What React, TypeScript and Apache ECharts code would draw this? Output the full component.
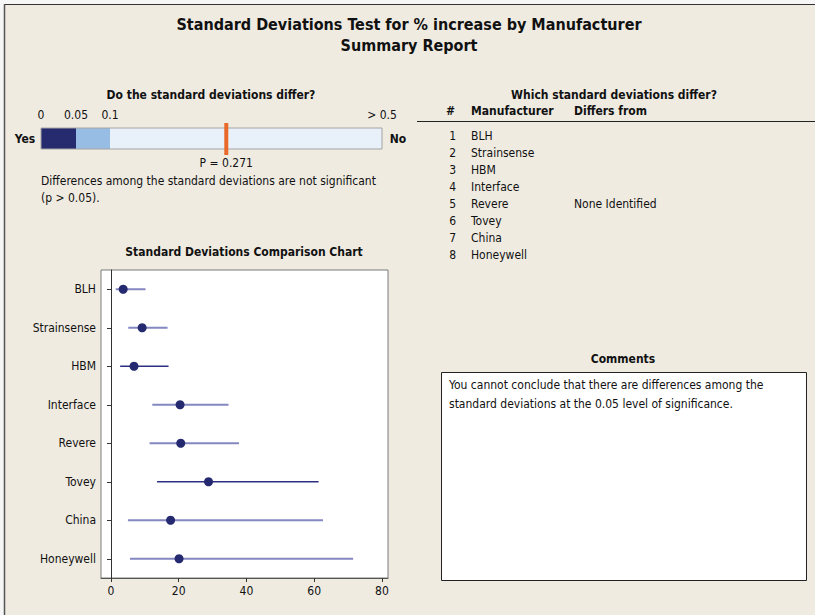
import React, { useEffect, useRef } from "react";
import * as echarts from "echarts";

// ---- data ----
const manufacturers = ["BLH", "Strainsense", "HBM", "Interface", "Revere", "Tovey", "China", "Honeywell"];
const stdevs = [3.6, 9.2, 6.8, 20.4, 20.6, 28.8, 17.6, 20.1];
const ciLow = [1.4, 5.1, 2.7, 12.2, 11.4, 13.6, 5.0, 5.6];
const ciHigh = [10.2, 16.7, 17.0, 34.7, 37.8, 61.3, 62.6, 71.5];
const ciDark = [false, false, true, false, false, true, false, false];
const xTicks = [0, 20, 40, 60, 80];
const pBreaks = [0, 0.05, 0.1, 0.5];
const pTickLabels = ["0", "0.05", "0.1", "> 0.5"];
const pValue = 0.271;
const differsFrom = ["", "", "", "", "None Identified", "", "", ""];

const FONT = "'DejaVu Sans Condensed', 'DejaVu Sans', sans-serif";
const BG = "#efebe1";
const NAVY = "#252a70";
const LIGHT_LINE = "#8587c0";
const DARK_LINE = "#2c3080";

// pixel positions of the p-value bar breakpoints
const barPx = [41, 76, 110, 382];
function pToX(p: number): number {
  for (let i = 0; i < pBreaks.length - 1; i++) {
    if (p <= pBreaks[i + 1]) {
      const t = (p - pBreaks[i]) / (pBreaks[i + 1] - pBreaks[i]);
      return barPx[i] + t * (barPx[i + 1] - barPx[i]);
    }
  }
  return barPx[barPx.length - 1];
}

function txt(text: string, x: number, y: number, opts: any = {}) {
  const align = opts.align || "left";
  return {
    type: "text",
    silent: true,
    style: {
      text,
      x,
      y,
      fill: opts.color || "#111",
      fontSize: opts.size || 12,
      fontWeight: opts.bold ? "bold" : "normal",
      fontFamily: FONT,
      align,
      textAlign: align,
      verticalAlign: "middle",
      textVerticalAlign: "middle",
    },
  };
}

export default function App() {
  const ref = useRef<HTMLDivElement>(null);
  useEffect(() => {
    if (!ref.current) return;
    const chart = echarts.init(ref.current, undefined, { renderer: "svg" });

    const graphics: any[] = [];
    // frame background
    graphics.push({ type: "rect", silent: true, z: -10, shape: { x: 4, y: 4, width: 811, height: 611 }, style: { fill: BG } });
    graphics.push({ type: "line", silent: true, shape: { x1: 4, y1: 4.5, x2: 815, y2: 4.5 }, style: { stroke: "#333", lineWidth: 1 } });
    graphics.push({ type: "line", silent: true, shape: { x1: 4.5, y1: 4, x2: 4.5, y2: 615 }, style: { stroke: "#555", lineWidth: 1.5 } });

    // main titles
    graphics.push(txt("Standard Deviations Test for % increase by Manufacturer", 409, 24, { size: 16, bold: true, align: "center" }));
    graphics.push(txt("Summary Report", 409, 45, { size: 16, bold: true, align: "center" }));

    // p-value panel
    graphics.push(txt("Do the standard deviations differ?", 211, 95, { bold: true, align: "center" }));
    pTickLabels.forEach((l, i) => graphics.push(txt(l, pToX(pBreaks[i]), 115, { align: "center" })));
    const barColors = ["#262a6e", "#98bde4", "#e8f0fa"];
    for (let i = 0; i < pBreaks.length - 1; i++) {
      const x0 = pToX(pBreaks[i]);
      const x1 = pToX(pBreaks[i + 1]);
      graphics.push({ type: "rect", silent: true, shape: { x: x0, y: 128, width: x1 - x0, height: 21 }, style: { fill: barColors[i] } });
    }
    graphics.push({ type: "rect", silent: true, shape: { x: 41, y: 128, width: 341, height: 21 }, style: { fill: "none", stroke: "#a4a4a4", lineWidth: 1 } });
    const px = pToX(pValue);
    graphics.push({ type: "rect", silent: true, shape: { x: px - 2, y: 123, width: 4, height: 32 }, style: { fill: "#e8692a" } });
    graphics.push(txt("Yes", 25, 139, { bold: true, align: "center", size: 12 }));
    graphics.push(txt("No", 398, 139, { bold: true, align: "center", size: 12 }));
    graphics.push(txt("P = " + pValue.toFixed(3), px, 163, { align: "center" }));
    graphics.push(txt("Differences among the standard deviations are not significant", 41, 181));
    graphics.push(txt("(p > 0.05).", 41, 198));

    // which differ table
    graphics.push(txt("Which standard deviations differ?", 614, 95, { bold: true, align: "center" }));
    graphics.push(txt("#", 455, 111, { bold: true, align: "right" }));
    graphics.push(txt("Manufacturer", 471, 111, { bold: true }));
    graphics.push(txt("Differs from", 574, 111, { bold: true }));
    graphics.push({ type: "line", silent: true, shape: { x1: 417, y1: 121.5, x2: 815, y2: 121.5 }, style: { stroke: "#222", lineWidth: 1.2 } });
    manufacturers.forEach((m, i) => {
      const y = 136 + i * 17;
      graphics.push(txt(String(i + 1), 456, y, { align: "right" }));
      graphics.push(txt(m, 471, y));
      if (differsFrom[i]) graphics.push(txt(differsFrom[i], 574, y));
    });

    // comparison chart title
    graphics.push(txt("Standard Deviations Comparison Chart", 244, 252, { bold: true, align: "center" }));

    // comments
    graphics.push(txt("Comments", 623, 359, { bold: true, align: "center" }));
    graphics.push({ type: "rect", silent: true, shape: { x: 441.5, y: 372.5, width: 365, height: 208 }, style: { fill: "#fff", stroke: "#222", lineWidth: 1 } });
    graphics.push(txt("You cannot conclude that there are differences among the", 449, 385));
    graphics.push(txt("standard deviations at the 0.05 level of significance.", 449, 404));

    const option: any = {
      animation: false,
      backgroundColor: "#f6f6f6",
      textStyle: { fontFamily: FONT },
      grid: {
        left: 101,
        top: 270,
        width: 287,
        height: 308,
        show: true,
        backgroundColor: "#ffffff",
        borderColor: "#7a7a7a",
        borderWidth: 1,
        containLabel: false,
      },
      xAxis: {
        type: "value",
        min: -2.95,
        max: 81.8,
        splitLine: { show: false },
        axisLine: { show: true, lineStyle: { color: "#555", width: 1 } },
        axisTick: { show: true, length: 4, customValues: xTicks, lineStyle: { color: "#333" } },
        axisLabel: { customValues: xTicks, fontSize: 12, color: "#111", margin: 7, fontFamily: FONT },
      },
      yAxis: {
        type: "category",
        data: manufacturers,
        inverse: true,
        axisLine: { show: true, lineStyle: { color: "#333", width: 1 } },
        axisTick: { show: true, alignWithLabel: true, length: 4, lineStyle: { color: "#333" } },
        axisLabel: { fontSize: 12, color: "#111", margin: 5, fontFamily: FONT },
        splitLine: { show: false },
      },
      graphic: { elements: graphics },
      series: [
        {
          type: "custom",
          data: manufacturers.map((m, i) => [i, ciLow[i], ciHigh[i]]),
          encode: { x: [1, 2], y: 0 },
          renderItem: (params: any, api: any) => {
            const i = api.value(0);
            const a = api.coord([api.value(1), i]);
            const b = api.coord([api.value(2), i]);
            const dark = ciDark[i];
            return {
              type: "line",
              shape: { x1: a[0], y1: a[1], x2: b[0], y2: b[1] },
              style: { stroke: dark ? DARK_LINE : LIGHT_LINE, lineWidth: dark ? 1.5 : 2 },
            };
          },
          z: 2,
        },
        {
          type: "scatter",
          data: manufacturers.map((m, i) => [stdevs[i], i]),
          symbol: "circle",
          symbolSize: 9,
          itemStyle: { color: NAVY, opacity: 1 },
          z: 3,
        },
      ],
    };
    chart.setOption(option);
    return () => chart.dispose();
  }, []);
  return <div ref={ref} style={{ position: "fixed", left: 0, top: 0, width: 815, height: 615 }} />;
}
